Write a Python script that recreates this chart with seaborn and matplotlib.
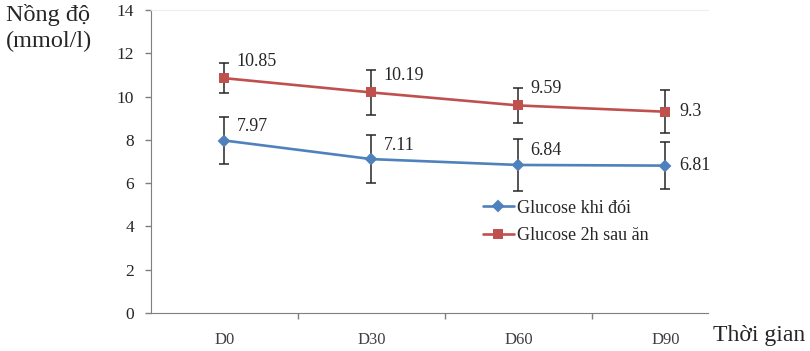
import matplotlib
matplotlib.use("Agg")
import matplotlib.pyplot as plt
import pandas as pd
import seaborn as sns

days = ["D0", "D30", "D60", "D90"]
fasting = [7.97, 7.11, 6.84, 6.81]
fasting_sd = [1.10, 1.11, 1.19, 1.10]
postmeal = [10.85, 10.19, 9.59, 9.3]
postmeal_sd = [0.70, 1.06, 0.79, 1.00]
series_names = ["Glucose khi đói", "Glucose 2h sau ăn"]
y_ticks = [0, 2, 4, 6, 8, 10, 12, 14]

sns.set_style("ticks")
plt.rcParams["font.family"] = ["Liberation Serif", "DejaVu Serif"]

df = pd.DataFrame({
    "day": days * 2,
    "value": fasting + postmeal,
    "sd": fasting_sd + postmeal_sd,
    "series": [series_names[0]] * len(days) + [series_names[1]] * len(days),
})
colors = {series_names[0]: "#4f81bd", series_names[1]: "#c0504d"}

fig = plt.figure(figsize=(8.1, 3.51), dpi=100)
ax = fig.add_axes([151 / 810, 38 / 351, 557 / 810, 303 / 351])

# error bars first so markers sit on top
for name in series_names:
    sub = df[df["series"] == name]
    xs = [days.index(d) for d in sub["day"]]
    ax.errorbar(xs, sub["value"], yerr=sub["sd"], fmt="none", ecolor="#262626",
                elinewidth=1.1, capsize=3.3, capthick=1.1, zorder=1.5)

sns.pointplot(data=df, x="day", y="value", hue="series", order=days,
              hue_order=series_names, palette=colors, markers=["D", "s"],
              linestyles=["-", "-"], errorbar=None, markersize=5.2,
              linewidth=1.9, ax=ax)
for line in ax.lines:
    if line.get_marker() == "s":
        line.set_markersize(6.3)

# value labels
for name, ups in zip(series_names, [14, 17]):
    sub = df[df["series"] == name].reset_index(drop=True)
    for i, row in sub.iterrows():
        last = i == len(sub) - 1
        off = (14, 0) if last else (12, ups)
        ax.annotate(f"{row['value']:g}", (days.index(row["day"]), row["value"]),
                    xytext=off, textcoords="offset pixels", ha="left", va="center",
                    fontsize=13, color="#262626")

ax.set_xlim(-0.5, 3.29)
ax.set_ylim(0, 14)
ax.set_yticks(y_ticks)
ax.set_xticks(range(len(days)))
ax.set_xticklabels(days)
ax.set_xticks([0.5, 1.5, 2.5], minor=True)
ax.tick_params(axis="x", which="major", length=0, pad=13.5, labelsize=12, labelcolor="#404040")
ax.tick_params(axis="x", which="minor", length=4, width=1, color="#7f7f7f")
ax.tick_params(axis="y", length=4.3, width=1, color="#7f7f7f", pad=8, labelsize=12.5,
               labelcolor="#262626")
ax.set_xlabel("")
ax.set_ylabel("")
for s in ["left", "bottom"]:
    ax.spines[s].set_color("#7f7f7f")
ax.spines["right"].set_visible(False)
ax.spines["top"].set_color("#eeeeee")

handles, labels = ax.get_legend_handles_labels()
ax.legend(handles, labels, loc="center left", bbox_to_anchor=(483 / 810, 1 - 222 / 351),
          bbox_transform=fig.transFigure, frameon=False, fontsize=13,
          handlelength=1.7, handletextpad=0.2, labelspacing=0.6, borderpad=0,
          borderaxespad=0)

fig.text(6 / 810, 1 - 4 / 351, "Nồng độ\n(mmol/l)", ha="left", va="top",
         fontsize=17.5, linespacing=1.3)
fig.text(713 / 810, 1 - 336 / 351, "Thời gian", ha="left", va="center", fontsize=17)

fig.savefig("out.png", dpi=100)
